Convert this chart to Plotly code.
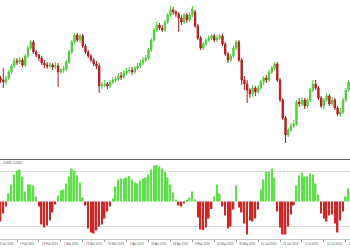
import plotly.graph_objects as go

# ---- data ----
bar_index = list(range(128))

open_ = [111.22, 111.20, 111.18, 111.22, 111.28, 111.34, 111.39, 111.38, 111.40, 111.35,
         111.44, 111.52, 111.58, 111.48, 111.45, 111.42, 111.37, 111.35, 111.34, 111.35,
         111.33, 111.34, 111.28, 111.30, 111.31, 111.38, 111.48, 111.58, 111.65, 111.60,
         111.64, 111.54, 111.48, 111.44, 111.40, 111.36, 111.34, 111.14, 111.15, 111.16,
         111.14, 111.18, 111.20, 111.21, 111.24, 111.23, 111.27, 111.29, 111.30, 111.28,
         111.32, 111.34, 111.37, 111.40, 111.42, 111.50, 111.60, 111.70, 111.75, 111.72,
         111.70, 111.78, 111.85, 111.90, 111.88, 111.86, 111.82, 111.78, 111.85, 111.80,
         111.85, 111.88, 111.74, 111.62, 111.52, 111.56, 111.60, 111.62, 111.64, 111.60,
         111.62, 111.64, 111.56, 111.46, 111.40, 111.44, 111.52, 111.58, 111.40, 111.20,
         111.16, 111.10, 111.06, 111.12, 111.08, 111.12, 111.18, 111.22, 111.20, 111.28,
         111.32, 111.36, 111.20, 111.00, 110.82, 110.65, 110.70, 110.74, 110.76, 110.98,
         110.96, 111.00, 110.94, 111.00, 111.10, 111.16, 111.12, 111.02, 110.94, 111.00,
         111.04, 110.96, 111.00, 110.92, 110.86, 110.88, 111.00, 111.10]

close = [111.20, 111.18, 111.22, 111.28, 111.34, 111.39, 111.38, 111.40, 111.35, 111.44,
         111.52, 111.58, 111.48, 111.45, 111.42, 111.37, 111.35, 111.34, 111.35, 111.33,
         111.34, 111.28, 111.30, 111.31, 111.38, 111.48, 111.58, 111.65, 111.60, 111.64,
         111.54, 111.48, 111.44, 111.40, 111.36, 111.34, 111.14, 111.15, 111.16, 111.14,
         111.18, 111.20, 111.21, 111.24, 111.23, 111.27, 111.29, 111.30, 111.28, 111.32,
         111.34, 111.37, 111.40, 111.42, 111.50, 111.60, 111.70, 111.75, 111.72, 111.70,
         111.78, 111.85, 111.90, 111.88, 111.86, 111.82, 111.78, 111.85, 111.80, 111.85,
         111.91, 111.74, 111.62, 111.52, 111.56, 111.60, 111.62, 111.64, 111.60, 111.62,
         111.64, 111.56, 111.46, 111.40, 111.44, 111.52, 111.58, 111.40, 111.20, 111.16,
         111.10, 111.06, 111.12, 111.08, 111.12, 111.18, 111.22, 111.20, 111.28, 111.32,
         111.36, 111.20, 111.00, 110.82, 110.65, 110.70, 110.74, 110.76, 110.98, 110.96,
         111.00, 110.94, 111.00, 111.10, 111.16, 111.12, 111.02, 110.94, 111.00, 111.04,
         110.96, 111.00, 110.92, 110.86, 110.88, 111.00, 111.10, 111.18]

high = [111.24, 111.32, 111.24, 111.30, 111.36, 111.42, 111.42, 111.43, 111.42, 111.46,
        111.54, 111.60, 111.60, 111.50, 111.46, 111.44, 111.40, 111.38, 111.38, 111.37,
        111.38, 111.37, 111.32, 111.34, 111.40, 111.50, 111.60, 111.67, 111.67, 111.66,
        111.66, 111.56, 111.50, 111.46, 111.42, 111.39, 111.37, 111.18, 111.20, 111.18,
        111.20, 111.23, 111.24, 111.27, 111.28, 111.30, 111.32, 111.33, 111.33, 111.34,
        111.37, 111.40, 111.43, 111.45, 111.52, 111.62, 111.72, 111.78, 111.77, 111.75,
        111.80, 111.87, 111.94, 111.93, 111.90, 111.88, 111.85, 111.87, 111.87, 111.88,
        111.94, 111.90, 111.76, 111.64, 111.58, 111.62, 111.65, 111.66, 111.66, 111.65,
        111.66, 111.66, 111.58, 111.48, 111.46, 111.54, 111.60, 111.60, 111.42, 111.24,
        111.20, 111.12, 111.15, 111.14, 111.15, 111.20, 111.24, 111.25, 111.30, 111.34,
        111.38, 111.38, 111.22, 111.02, 110.84, 110.72, 110.77, 110.80, 111.00, 111.02,
        111.03, 111.02, 111.02, 111.12, 111.20, 111.20, 111.14, 111.04, 111.02, 111.07,
        111.06, 111.03, 111.02, 110.94, 110.92, 111.02, 111.12, 111.20]

low = [111.17, 111.12, 111.15, 111.20, 111.26, 111.32, 111.35, 111.36, 111.33, 111.33,
       111.42, 111.50, 111.46, 111.43, 111.39, 111.35, 111.32, 111.31, 111.32, 111.30,
       111.31, 111.13, 111.26, 111.27, 111.29, 111.36, 111.46, 111.56, 111.58, 111.57,
       111.52, 111.46, 111.42, 111.38, 111.34, 111.31, 111.07, 111.11, 111.13, 111.11,
       111.12, 111.16, 111.18, 111.19, 111.20, 111.21, 111.25, 111.27, 111.25, 111.26,
       111.30, 111.32, 111.35, 111.38, 111.40, 111.48, 111.58, 111.68, 111.70, 111.68,
       111.68, 111.76, 111.83, 111.85, 111.83, 111.68, 111.75, 111.76, 111.77, 111.78,
       111.83, 111.72, 111.60, 111.50, 111.50, 111.54, 111.58, 111.60, 111.58, 111.58,
       111.60, 111.54, 111.44, 111.37, 111.38, 111.42, 111.50, 111.38, 111.15, 111.10,
       110.97, 111.02, 111.03, 111.04, 111.06, 111.10, 111.15, 111.17, 111.18, 111.26,
       111.30, 111.18, 110.98, 110.80, 110.57, 110.63, 110.68, 110.72, 110.74, 110.93,
       110.94, 110.91, 110.92, 110.98, 111.08, 111.10, 111.00, 110.92, 110.91, 110.98,
       110.94, 110.94, 110.90, 110.84, 110.83, 110.86, 110.98, 111.08]

histogram = [-0.20, -0.12, -0.05, 0.08, 0.17, 0.27, 0.31, 0.32, 0.25, 0.10,
             0.17, 0.17, 0.16, 0.05, -0.05, -0.23, -0.26, -0.24, -0.19, -0.11,
             -0.03, 0.06, 0.11, 0.12, 0.18, 0.25, 0.33, 0.31, 0.26, 0.19,
             0.04, -0.04, -0.27, -0.31, -0.32, -0.29, -0.25, -0.23, -0.17, -0.10,
             -0.05, 0.03, 0.15, 0.22, 0.23, 0.23, 0.24, 0.255, 0.22, 0.19,
             0.18, 0.21, 0.23, 0.24, 0.27, 0.32, 0.36, 0.365, 0.35, 0.33,
             0.30, 0.24, 0.17, 0.09, 0.02, -0.04, -0.05, -0.02, 0.015, 0.04,
             0.10, 0.02, -0.16, -0.28, -0.285, -0.26, -0.17, -0.075, 0.05, 0.17,
             0.08, -0.05, -0.14, -0.27, -0.25, -0.08, 0.16, -0.06, -0.11, -0.22,
             -0.33, -0.19, -0.20, -0.17, -0.08, 0.12, 0.22, 0.30, 0.30, 0.33,
             0.24, -0.10, -0.26, -0.33, -0.33, -0.25, -0.13, -0.04, 0.16, 0.26,
             0.29, 0.25, 0.25, 0.28, 0.27, 0.18, 0.07, -0.12, -0.17, -0.20,
             -0.14, -0.13, -0.22, -0.31, -0.19, -0.10, 0.05, 0.13]

date_labels = ["28 Jan 2019", "7 Feb 2019", "19 Feb 2019", "1 Mar 2019", "13 Mar 2019",
               "25 Mar 2019", "4 Apr 2019", "16 Apr 2019", "26 Apr 2019", "8 May 2019",
               "20 May 2019", "30 May 2019", "11 Jun 2019", "21 Jun 2019", "3 Jul 2019",
               "15 Jul 2019", "25 Jul 2019"]
date_label_index = [-2, 6, 14, 22, 30, 38, 46, 54, 62, 70, 78, 86, 94, 102, 110, 118, 126]

indicator_text = "0.4826 -0.0828"
grid_levels = [0.30, -0.245]

# ---- styling ----
GREEN = "#5ee04a"
GREEN_LINE = "#4cc83c"
RED = "#d02626"
RED_LINE = "#b01c1c"
FONT = "Liberation Sans"
WIDTH = 350

fig = go.Figure()

fig.add_trace(go.Candlestick(
    x=bar_index, open=open_, high=high, low=low, close=close,
    increasing=dict(fillcolor=GREEN, line=dict(color=GREEN_LINE, width=1)),
    decreasing=dict(fillcolor=RED, line=dict(color=RED_LINE, width=1)),
    whiskerwidth=0, xaxis="x", yaxis="y", showlegend=False, hoverinfo="skip",
))

fig.add_trace(go.Bar(
    x=bar_index, y=histogram,
    marker=dict(color=[GREEN if v >= 0 else RED for v in histogram], line=dict(width=0)),
    xaxis="x2", yaxis="y2", showlegend=False, hoverinfo="skip",
))

x_range = [-0.204, 127.53]
px_per_bar = WIDTH / (x_range[1] - x_range[0])

fig.update_layout(
    width=WIDTH, height=250,
    margin=dict(l=0, r=0, t=0, b=11),
    paper_bgcolor="white", plot_bgcolor="white",
    bargap=0.4,
    font=dict(family=FONT, size=3, color="#555"),
    xaxis=dict(domain=[0, 1], range=x_range, anchor="y", showticklabels=False,
               showgrid=False, zeroline=False, showline=True, linecolor="#666",
               linewidth=1, rangeslider=dict(visible=False), fixedrange=True),
    yaxis=dict(domain=[0.3347, 1], range=[110.41, 112.00], showticklabels=False,
               showgrid=False, zeroline=False, fixedrange=True),
    xaxis2=dict(domain=[0, 1], range=x_range, anchor="y2", matches="x",
                tickvals=date_label_index, ticks="outside", ticklen=2, tickcolor="#999",
                showticklabels=False, showgrid=False, zeroline=False,
                showline=True, linecolor="#c8c8c8", linewidth=1),
    yaxis2=dict(domain=[0, 0.3305], range=[-0.375, 0.415], tickvals=grid_levels,
                showticklabels=False, showgrid=True, gridcolor="#dcdcdc", gridwidth=1,
                zeroline=False, fixedrange=True),
)

for lab, idx in zip(date_labels, date_label_index):
    pos = idx + 0.35
    shift = 0
    if pos < x_range[0]:
        # label whose bar lies just left of the visible window: anchor at the
        # window edge and shift by the axis scale so it is cut like the original
        shift = (pos - x_range[0]) * px_per_bar
        pos = x_range[0]
    fig.add_annotation(x=pos, xref="x2", xshift=shift, y=-0.021, yref="paper",
                       text=lab, showarrow=False, xanchor="left", yanchor="middle",
                       font=dict(family=FONT, size=2.8, color="#555"))

fig.add_annotation(x=0.003, xref="paper", y=0.318, yref="paper", text=indicator_text,
                   showarrow=False, xanchor="left", yanchor="middle",
                   font=dict(family=FONT, size=2.8, color="#555"))

fig.write_html("out.html")
